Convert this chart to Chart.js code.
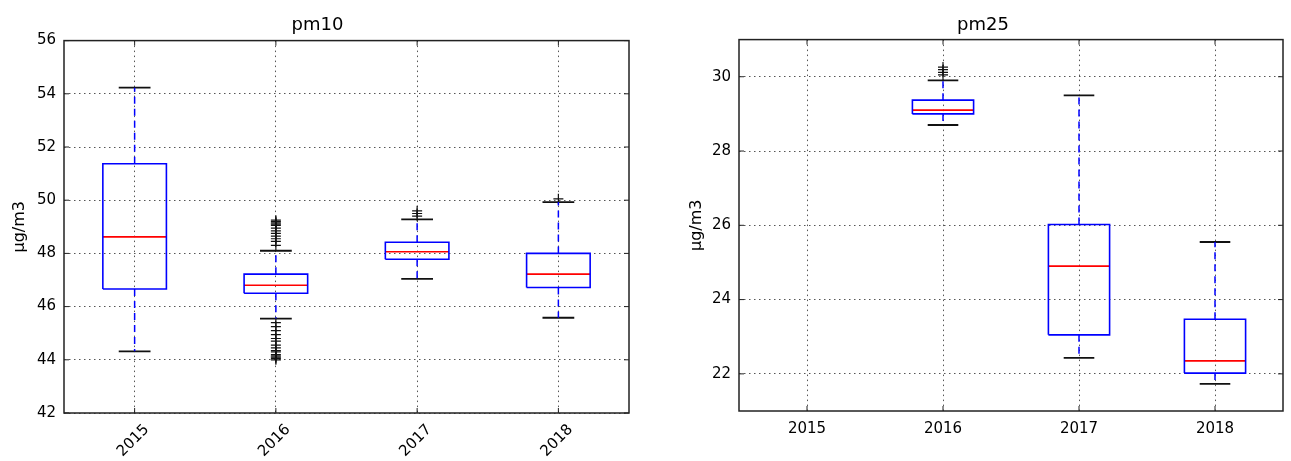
<!DOCTYPE html>
<html>
<head>
<meta charset="utf-8">
<script src="https://cdn.jsdelivr.net/npm/chart.js@4"></script>
<style>
body{margin:0;background:#fff;width:1291px;height:461px;overflow:hidden;position:relative}
canvas{position:absolute;top:0}
#pm10Chart{left:0}
#pm25Chart{left:645px}
</style>
</head>
<body>
<canvas id="pm10Chart" width="645" height="461"></canvas>
<canvas id="pm25Chart" width="646" height="461"></canvas>
<script>
/* Data */

const years=["2015","2016","2017","2018"];

const pm10Low=[44.32,45.55,47.04,45.58];
const pm10Q1=[46.66,46.5,47.78,46.72];
const pm10Median=[48.62,46.8,48.06,47.22];
const pm10Q3=[51.37,47.22,48.42,48.0];
const pm10High=[54.23,48.1,49.28,49.93];
const pm10Fliers=[
[],
[48.3,48.45,48.55,48.65,48.75,48.85,48.95,49.05,49.1,49.15,49.2,49.25,
45.4,45.25,45.1,44.95,44.8,44.7,44.55,44.45,44.35,44.3,44.2,44.15,44.1,44.05,44.0],
[49.4,49.5,49.6],
[50.05]
];
const pm10Ticks=[42,44,46,48,50,52,54,56];

const pm25Low=[null,28.7,22.43,21.73];
const pm25Q1=[null,29.0,23.05,22.02];
const pm25Median=[null,29.1,24.9,22.35];
const pm25Q3=[null,29.37,26.02,23.47];
const pm25High=[null,29.9,29.5,25.55];
const pm25Fliers=[[],[30.05,30.12,30.19,30.26],[],[]];
const pm25Ticks=[22,24,26,28,30];

/* Box geometry (in category units) */

const BOX=0.225,CAP=0.1125;
const FONT="DejaVu Sans";

function boxPoints(q1,q3){
const pts=[];
q1.forEach((lo,i)=>{
if(lo===null)return;
const x=i+1,hi=q3[i];
pts.push({x:x-BOX,y:lo},{x:x+BOX,y:lo},{x:x+BOX,y:hi},{x:x-BOX,y:hi},{x:x-BOX,y:lo},{x:x,y:null});
});
return pts;
}

function segPoints(vals,half){
const pts=[];
vals.forEach((v,i)=>{
if(v===null)return;
pts.push({x:i+1-half,y:v},{x:i+1+half,y:v},{x:i+1,y:null});
});
return pts;
}

function whiskerPoints(q1,q3,low,high){
const pts=[];
q1.forEach((lo,i)=>{
if(lo===null)return;
const x=i+1;
pts.push({x,y:q3[i]},{x,y:high[i]},{x,y:null},{x,y:lo},{x,y:low[i]},{x,y:null});
});
return pts;
}

function flierPoints(fliers){
return fliers.flatMap((arr,i)=>arr.map(v=>({x:i+1,y:v})));
}

/* Frame with inward ticks */

const framePlugin={
id:"frame",
afterDraw(chart){
const {ctx,chartArea:a,scales}=chart;
ctx.save();
ctx.strokeStyle="#222";
ctx.lineWidth=1.5;
ctx.strokeRect(a.left,a.top,a.right-a.left,a.bottom-a.top);
ctx.lineWidth=1;
ctx.beginPath();
scales.y.ticks.forEach(t=>{
const y=scales.y.getPixelForValue(t.value);
ctx.moveTo(a.left,y);ctx.lineTo(a.left+5,y);
ctx.moveTo(a.right,y);ctx.lineTo(a.right-5,y);
});
scales.x.ticks.forEach(t=>{
const x=scales.x.getPixelForValue(t.value);
ctx.moveTo(x,a.top);ctx.lineTo(x,a.top+5);
ctx.moveTo(x,a.bottom);ctx.lineTo(x,a.bottom-5);
});
ctx.stroke();
ctx.restore();
}
};

function makeChart(el,title,s,opt){

return new Chart(el,{

type:"line",

data:{datasets:[

{data:whiskerPoints(s.q1,s.q3,s.low,s.high),borderColor:"#0000ff",borderWidth:1.5,borderDash:[7,5]},

{data:boxPoints(s.q1,s.q3),borderColor:"#0000ff",borderWidth:1.6},

{data:segPoints(s.median,BOX),borderColor:"#ff0000",borderWidth:1.6},

{data:segPoints(s.low,CAP).concat(segPoints(s.high,CAP)),borderColor:"#111",borderWidth:1.8},

{data:flierPoints(s.fliers),showLine:false,pointStyle:"cross",pointRadius:5,borderColor:"#111",borderWidth:1.2}

]},

options:{

responsive:false,
animation:false,
events:[],
spanGaps:false,

elements:{point:{radius:0},line:{tension:0,fill:false}},

layout:{padding:{left:opt.padLeft,right:opt.padRight,top:0,bottom:0}},

plugins:{
legend:{display:false},
tooltip:{enabled:false},
title:{display:true,text:title,color:"#000",
font:{family:FONT,size:18,weight:"normal"},
padding:{top:15,bottom:opt.titleBottom}}
},

scales:{

x:{
type:"linear",min:0.5,max:4.5,
afterBuildTicks:sc=>{sc.ticks=years.map((y,i)=>({value:i+1}));},
afterFit:sc=>{sc.height=opt.xHeight;},
grid:{color:"#555",lineWidth:1,drawTicks:false},
border:{display:false,dash:[1.5,3.5]},
ticks:{color:"#000",font:{family:FONT,size:15},padding:opt.xPad,
minRotation:opt.rot,maxRotation:opt.rot,labelOffset:opt.labelOffset,autoSkip:false,
callback:v=>years[v-1]}
},

y:{
type:"linear",min:opt.yMin,max:opt.yMax,
afterBuildTicks:sc=>{sc.ticks=s.ticks.map(v=>({value:v}));},
afterFit:sc=>{sc.width=opt.yWidth;},
grid:{color:"#555",lineWidth:1,drawTicks:false},
border:{display:false,dash:[1.5,3.5]},
ticks:{color:"#000",font:{family:FONT,size:15},padding:8},
title:{display:true,text:"µg/m3",color:"#000",font:{family:FONT,size:16},padding:4}
}

}

},

plugins:[framePlugin]

});

}

/* pm10 */

makeChart(document.getElementById("pm10Chart"),"pm10",
{q1:pm10Q1,q3:pm10Q3,median:pm10Median,low:pm10Low,high:pm10High,fliers:pm10Fliers,ticks:pm10Ticks},
{padLeft:6,padRight:16,yWidth:58,xHeight:48,xPad:8,rot:45,labelOffset:12,yMin:42,yMax:56,titleBottom:4});

/* pm25 */

makeChart(document.getElementById("pm25Chart"),"pm25",
{q1:pm25Q1,q3:pm25Q3,median:pm25Median,low:pm25Low,high:pm25High,fliers:pm25Fliers,ticks:pm25Ticks},
{padLeft:38,padRight:8,yWidth:56,xHeight:50,xPad:9,rot:0,labelOffset:0,yMin:21,yMax:31,titleBottom:3});
</script>
</body>
</html>
